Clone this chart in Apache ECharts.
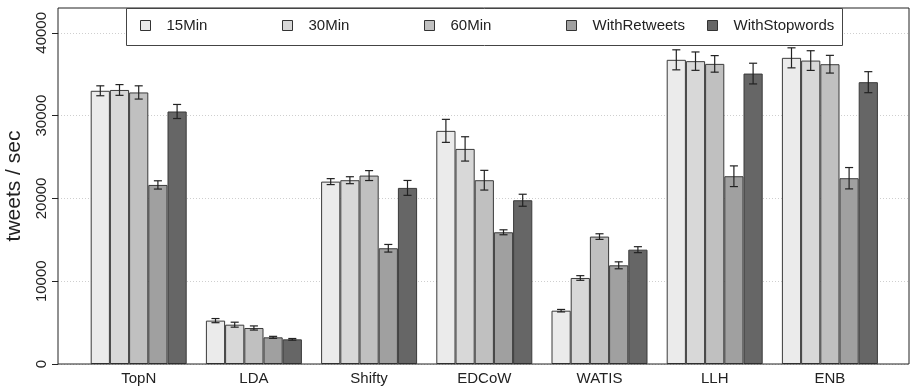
<!DOCTYPE html>
<html>
<head>
<meta charset="utf-8">
<script src="https://cdn.jsdelivr.net/npm/echarts@6/dist/echarts.min.js"></script>
<style>html,body{margin:0;padding:0;background:#fff}#c{width:910px;height:391px}</style>
</head>
<body>
<div id="c"></div>
<script>
const categories = ['TopN', 'LDA', 'Shifty', 'EDCoW', 'WATIS', 'LLH', 'ENB'];
const seriesNames = ['15Min', '30Min', '60Min', 'WithRetweets', 'WithStopwords'];
const yTicks = [0, 10000, 20000, 30000, 40000];

const v15Min = [33000, 5240, 22030, 28160, 6440, 36740, 36980];
const v30Min = [33100, 4750, 22200, 25980, 10390, 36580, 36650];
const v60Min = [32800, 4350, 22760, 22200, 15390, 36250, 36210];
const vWithRetweets = [21630, 3220, 13980, 15910, 11920, 22680, 22440];
const vWithStopwords = [30500, 2980, 21270, 19780, 13810, 35080, 34040];

const e15Min = [600, 250, 360, 1390, 150, 1210, 1210];
const e30Min = [650, 300, 420, 1470, 280, 1110, 1190];
const e60Min = [800, 250, 600, 1190, 340, 1000, 1070];
const eWithRetweets = [500, 120, 460, 300, 420, 1250, 1290];
const eWithStopwords = [850, 100, 900, 725, 360, 1250, 1270];

const values = [v15Min, v30Min, v60Min, vWithRetweets, vWithStopwords];
const errors = [e15Min, e30Min, e60Min, eWithRetweets, eWithStopwords];
const colors = ['#ebebeb', '#d8d8d8', '#c0c0c0', '#a0a0a0', '#666666'];
const legendLeft = [140, 282, 424, 566, 707];

const FONT = 'Liberation Sans, Arial, Helvetica, sans-serif';
const YMAX = 43000;
const GAP = 1 / 6;
const N = seriesNames.length;

const series = [];
values.forEach((vals, s) => {
  series.push({
    name: seriesNames[s],
    type: 'bar',
    xAxisIndex: 0, yAxisIndex: 0,
    data: vals,
    barGap: '0%',
    barCategoryGap: (GAP * 100) + '%',
    itemStyle: { color: colors[s], borderColor: '#3a3a3a', borderWidth: 1 },
    emphasis: { disabled: true },
    animation: false,
    z: 2
  });
});
values.forEach((vals, s) => {
  series.push({
    type: 'custom',
    xAxisIndex: 0, yAxisIndex: 0,
    data: vals.map((v, i) => [i, v - errors[s][i], v + errors[s][i]]),
    renderItem: function (params, api) {
      const i = api.value(0);
      const lo = api.coord([i, api.value(1)]);
      const hi = api.coord([i, api.value(2)]);
      const band = api.size([1, 0])[0];
      const bw = band * (1 - GAP) / N;
      const x = lo[0] + (s - (N - 1) / 2) * bw;
      const cap = bw * 0.21;
      const st = { stroke: '#222', lineWidth: 1.2 };
      return {
        type: 'group',
        children: [
          { type: 'line', shape: { x1: x, y1: lo[1], x2: x, y2: hi[1] }, style: st },
          { type: 'line', shape: { x1: x - cap, y1: lo[1], x2: x + cap, y2: lo[1] }, style: st },
          { type: 'line', shape: { x1: x - cap, y1: hi[1], x2: x + cap, y2: hi[1] }, style: st }
        ]
      };
    },
    animation: false,
    silent: true,
    z: 3
  });
});

const legends = seriesNames.map((n, s) => ({
  data: [n],
  left: legendLeft[s],
  top: 18,
  padding: 0,
  icon: 'rect',
  itemWidth: 10,
  itemHeight: 10,
  itemStyle: { borderColor: '#333', borderWidth: 1 },
  textStyle: { fontFamily: FONT, fontSize: 15, color: '#222', padding: [0, 0, 0, 11] },
  selectedMode: false,
  z: 6
}));

const option = {
  backgroundColor: '#fff',
  animation: false,
  grid: [
    { left: 81.1, right: 22.5, top: 8, bottom: 27, show: false, containLabel: false, outerBoundsMode: 'none' },
    { left: 58, right: 1, top: 8, bottom: 27, show: true, borderColor: '#222', borderWidth: 1, backgroundColor: 'transparent', z: 4, containLabel: false, outerBoundsMode: 'none' }
  ],
  xAxis: [
    { type: 'category', gridIndex: 0, data: categories,
      axisLine: { show: false }, axisTick: { show: false },
      axisLabel: { fontFamily: FONT, fontSize: 15, color: '#222', margin: 7 } },
    { type: 'value', gridIndex: 1, show: false, min: 0, max: 1 }
  ],
  yAxis: [
    { type: 'value', gridIndex: 0, min: 0, max: YMAX, show: false, splitLine: { show: false } },
    { type: 'value', gridIndex: 1, min: 0, max: YMAX, interval: 10000,
      name: 'tweets / sec', nameLocation: 'middle', nameGap: 33, nameRotate: 90,
      nameTextStyle: { fontFamily: FONT, fontSize: 21, color: '#222' },
      axisLine: { show: false },
      axisTick: { show: true, length: 6, lineStyle: { color: '#222' }, customValues: yTicks },
      axisLabel: { rotate: 90, fontFamily: FONT, fontSize: 15, color: '#222', margin: 9, customValues: yTicks,
        formatter: function (v) { return String(v); } },
      splitLine: { show: true, lineStyle: { color: '#cfcfcf', type: [1, 2], width: 1 } } }
  ],
  legend: legends,
  graphic: [
    { type: 'rect', left: 126, top: 8, shape: { width: 716, height: 37 },
      style: { fill: '#fff', stroke: '#444', lineWidth: 1 }, z: 5, silent: true }
  ],
  series: series
};

const chart = echarts.init(document.getElementById('c'), null, { renderer: 'canvas' });
chart.setOption(option);
</script>
</body>
</html>
